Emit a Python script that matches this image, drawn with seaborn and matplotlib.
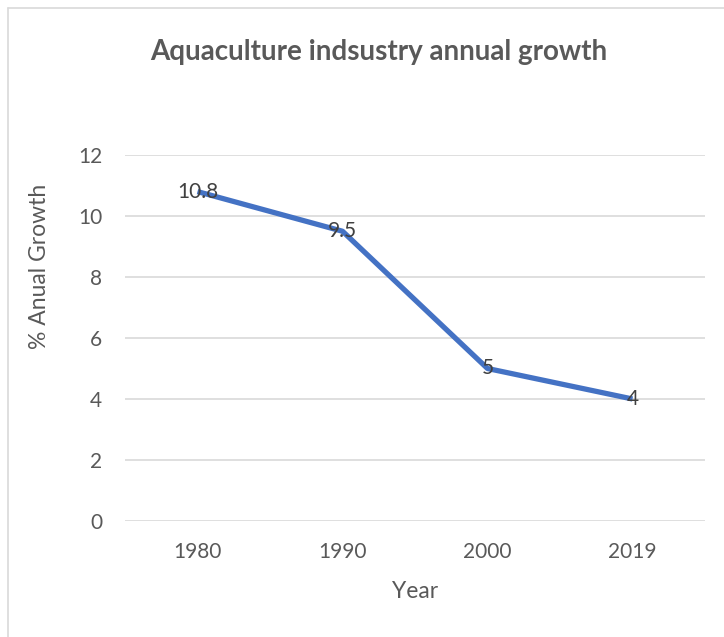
import matplotlib
matplotlib.use("Agg")
import matplotlib.pyplot as plt
import seaborn as sns
import pandas as pd
from matplotlib.lines import Line2D

# Annual growth of the aquaculture industry
years = ["1980", "1990", "2000", "2019"]
growth = [10.8, 9.5, 5, 4]
y_ticks = [0, 2, 4, 6, 8, 10, 12]

df = pd.DataFrame({"Year": years, "Growth": growth})

sns.set_theme(style="white")
plt.rcParams["font.family"] = ["Lato", "DejaVu Sans"]

text_col = "#595959"
fig = plt.figure(figsize=(7.24, 6.37), dpi=100)
ax = fig.add_axes([125 / 724, 1 - 521 / 637, 580 / 724, 366 / 637])

sns.lineplot(data=df, x="Year", y="Growth", ax=ax, color="#4472C4",
             linewidth=3.8, sort=False, solid_capstyle="butt", zorder=3)

ax.set_xlim(-0.5, len(years) - 0.5)
ax.set_ylim(0, 12)
ax.set_yticks(y_ticks)
ax.set_yticklabels([str(t) for t in y_ticks])
ax.yaxis.grid(True, color="#d9d9d9", linewidth=1.2)
ax.xaxis.grid(False)
for s in ax.spines.values():
    s.set_visible(False)
ax.tick_params(axis="y", length=0, pad=16.5, labelsize=15, labelcolor=text_col)
ax.tick_params(axis="x", length=0, pad=15, labelsize=15, labelcolor=text_col)
ax.set_xlabel("")
ax.set_ylabel("")

# value labels on each point
for i, v in enumerate(growth):
    ax.text(i, v, f"{v:g}", ha="center", va="center", fontsize=15,
            color="#404040", zorder=4)

fig.text(379 / 724, 1 - 52 / 637, "Aquaculture indsustry annual growth",
         ha="center", va="center", fontsize=20, fontweight="bold", color=text_col)
fig.text(415 / 724, 1 - 591 / 637, "Year", ha="center", va="center",
         fontsize=16.5, color=text_col)
fig.text(40 / 724, 1 - 266 / 637, "% Anual Growth", ha="center", va="center",
         rotation=90, fontsize=16.5, color=text_col)

# chart frame (top and left edges)
fig.add_artist(Line2D([7.5 / 724, 7.5 / 724], [0, 1 - 7.5 / 637],
                      transform=fig.transFigure, color="#d9d9d9", linewidth=1.2))
fig.add_artist(Line2D([7.5 / 724, 1], [1 - 7.5 / 637, 1 - 7.5 / 637],
                      transform=fig.transFigure, color="#d9d9d9", linewidth=1.2))

fig.savefig("out.png", dpi=100)
